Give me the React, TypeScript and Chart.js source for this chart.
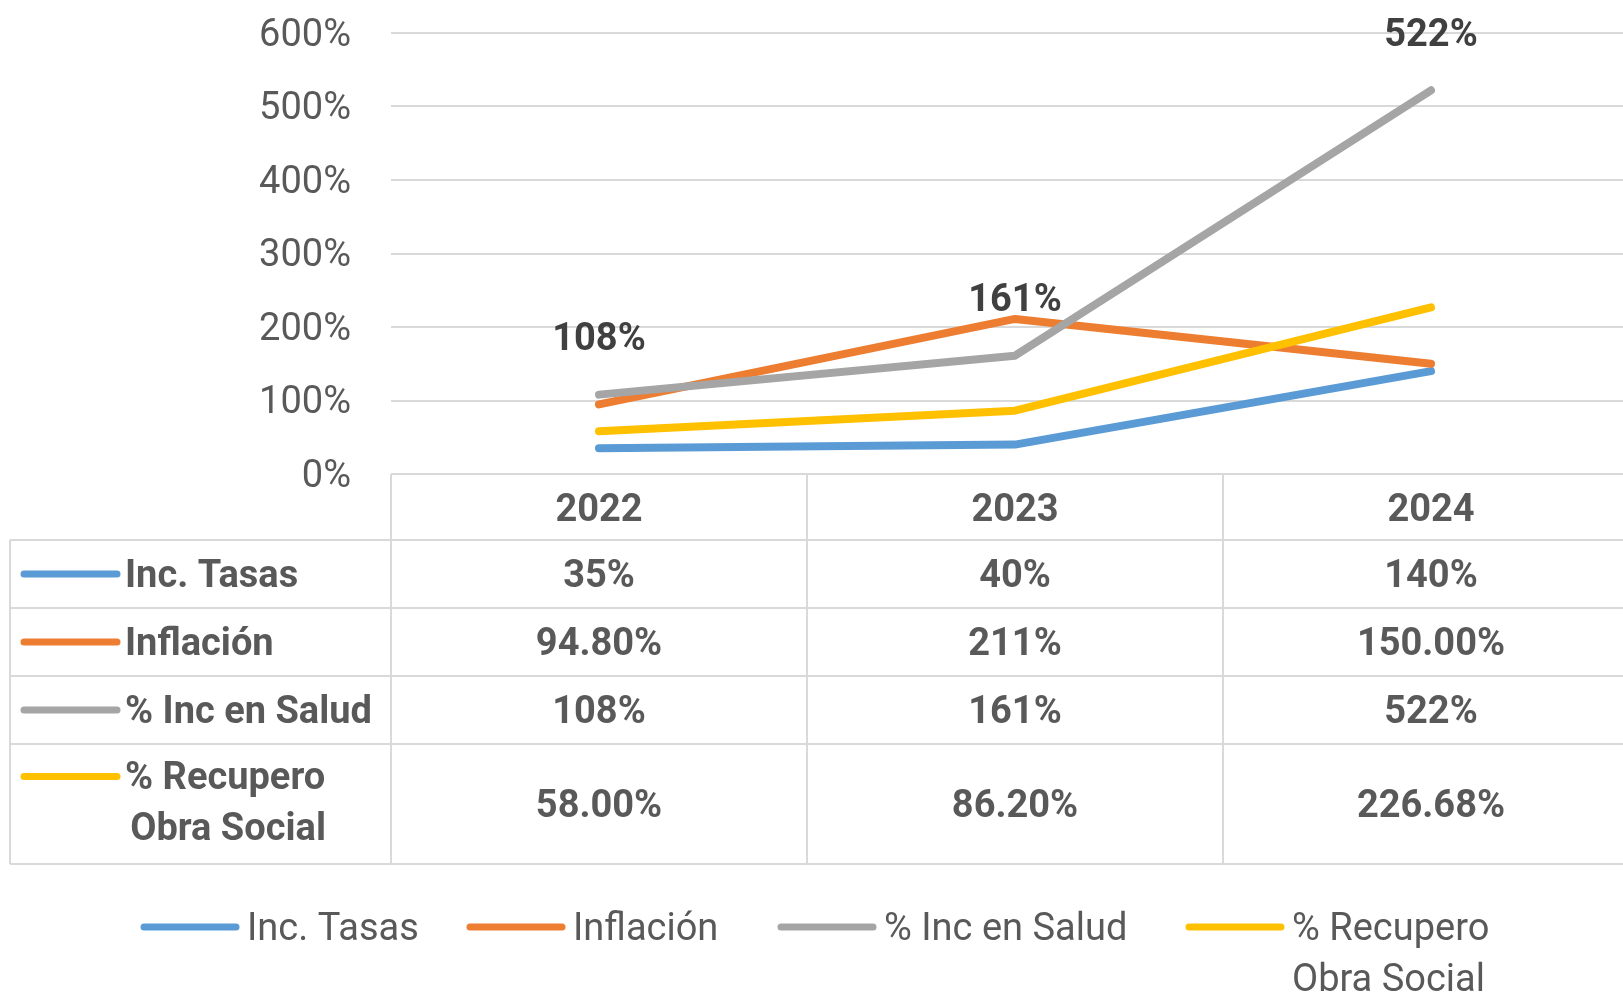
import React, { useEffect, useRef } from "react";
import { Chart, registerables } from "chart.js";

Chart.register(...registerables);

const categories = ["2022", "2023", "2024"];
const incTasas = [35, 40, 140];
const inflacion = [94.8, 211, 150];
const incSalud = [108, 161, 522];
const recupero = [58, 86.2, 226.68];

const tasasLabels = ["35%", "40%", "140%"];
const inflacionLabels = ["94.80%", "211%", "150.00%"];
const saludLabels = ["108%", "161%", "522%"];
const recuperoLabels = ["58.00%", "86.20%", "226.68%"];

const seriesNames = [["Inc. Tasas"], ["Inflación"], ["% Inc en Salud"], ["% Recupero", "Obra Social"]];
const seriesColors = ["#5B9BD5", "#ED7D31", "#A5A5A5", "#FFC000"];
const yTicks = [0, 100, 200, 300, 400, 500, 600];

const FONT = 'Roboto, "Noto Sans", sans-serif';
const FS = 38;
const CANVAS_W = 1660;
const CANVAS_H = 995;
const TY = 3; // text vertical nudge
const LEGEND_X = [141, 467, 778, 1186];

const tablePlugin = {
  id: "dataTable",
  afterDraw(chart: any) {
    const ctx = chart.ctx as CanvasRenderingContext2D;
    const area = chart.chartArea;
    const xs = chart.scales.x;
    const centers = categories.map((_, i) => xs.getPixelForValue(i));
    const half = (centers[1] - centers[0]) / 2;
    const bounds = [centers[0] - half, ...centers.map((c) => c + half)];
    const top = area.bottom;
    const rows = [540, 608, 676, 744, 864];
    const left = 10;
    const grid = "#D9D9D9";
    const textCol = "#595959";

    ctx.save();
    ctx.strokeStyle = grid;
    ctx.lineWidth = 2;
    rows.forEach((y) => {
      ctx.beginPath();
      ctx.moveTo(left, y);
      ctx.lineTo(CANVAS_W, y);
      ctx.stroke();
    });
    ctx.beginPath();
    ctx.moveTo(left, rows[0]);
    ctx.lineTo(left, rows[rows.length - 1]);
    ctx.stroke();
    bounds.forEach((x) => {
      ctx.beginPath();
      ctx.moveTo(x, top);
      ctx.lineTo(x, rows[rows.length - 1]);
      ctx.stroke();
    });

    ctx.textAlign = "center";
    ctx.textBaseline = "middle";
    ctx.fillStyle = textCol;
    ctx.font = `bold ${FS}px ${FONT}`;
    categories.forEach((c, i) => ctx.fillText(c, centers[i], (top + rows[0]) / 2 + 1 + TY));

    const valueRows = [tasasLabels, inflacionLabels, saludLabels, recuperoLabels];
    valueRows.forEach((vals, r) => {
      const yc = (rows[r] + rows[r + 1]) / 2;
      vals.forEach((v, i) => ctx.fillText(v, centers[i], yc + TY));
    });

    seriesNames.forEach((name, r) => {
      const yc = (rows[r] + rows[r + 1]) / 2;
      const lineGap = 51;
      const y0 = name.length > 1 ? yc - lineGap / 2 - 2 : yc;
      ctx.strokeStyle = seriesColors[r];
      ctx.lineWidth = 7;
      ctx.lineCap = "round";
      ctx.beginPath();
      ctx.moveTo(24, y0);
      ctx.lineTo(117, y0);
      ctx.stroke();
      ctx.fillStyle = textCol;
      ctx.font = `bold ${FS}px ${FONT}`;
      ctx.textAlign = "left";
      ctx.fillText(name[0], 125, y0 + TY);
      if (name.length > 1) {
        const w0 = ctx.measureText(name[0]).width;
        ctx.textAlign = "center";
        ctx.fillText(name[1], 128 + w0 / 2, y0 + lineGap + TY);
      }
    });

    const meta = chart.getDatasetMeta(2);
    ctx.fillStyle = "#404040";
    ctx.font = `bold ${FS}px ${FONT}`;
    ctx.textAlign = "center";
    meta.data.forEach((pt: any, i: number) => {
      ctx.fillText(saludLabels[i], pt.x, pt.y - 54);
    });

    ctx.font = `${FS}px ${FONT}`;
    const keyLen = 98;
    const keyGap = 8;
    const ly = 927;
    seriesNames.forEach((n, i) => {
      const x = LEGEND_X[i];
      ctx.strokeStyle = seriesColors[i];
      ctx.lineWidth = 7;
      ctx.lineCap = "round";
      ctx.beginPath();
      ctx.moveTo(x + 3, ly);
      ctx.lineTo(x + keyLen - 3, ly);
      ctx.stroke();
      ctx.fillStyle = textCol;
      ctx.textAlign = "left";
      ctx.fillText(n[0], x + keyLen + keyGap, ly + TY);
      if (n.length > 1) ctx.fillText(n[1], x + keyLen + keyGap, ly + 51 + TY);
    });
    ctx.restore();
  },
};

export default function App() {
  const ref = useRef<HTMLCanvasElement | null>(null);
  useEffect(() => {
    if (!ref.current) return;
    const mk = (label: string, data: number[], color: string, order: number) => ({
      label,
      data,
      borderColor: color,
      backgroundColor: color,
      borderWidth: 8,
      pointRadius: 0,
      borderCapStyle: "round" as const,
      borderJoinStyle: "round" as const,
      tension: 0,
      order,
    });
    const chart = new Chart(ref.current, {
      type: "line",
      data: {
        labels: categories,
        datasets: [
          mk("Inc. Tasas", incTasas, seriesColors[0], 3),
          mk("Inflación", inflacion, seriesColors[1], 2),
          mk("% Inc en Salud", incSalud, seriesColors[2], 1),
          mk("% Recupero Obra Social", recupero, seriesColors[3], 0),
        ],
      },
      options: {
        responsive: false,
        animation: false,
        devicePixelRatio: 1,
        layout: { padding: { left: 0, top: 33, right: CANVAS_W - 1639, bottom: CANVAS_H - 474 } },
        plugins: { legend: { display: false }, tooltip: { enabled: false } },
        scales: {
          x: { type: "category", display: false, offset: true },
          y: {
            min: yTicks[0],
            max: yTicks[yTicks.length - 1],
            afterBuildTicks: (s: any) => {
              s.ticks = yTicks.map((v) => ({ value: v }));
            },
            afterFit: (s: any) => {
              s.width = 391;
              s.paddingTop = 0;
              s.paddingBottom = 0;
            },
            ticks: {
              callback: (v: any) => v + "%",
              color: "#595959",
              font: { family: FONT, size: FS },
              padding: 40,
              labelOffset: 3,
            },
            grid: { color: "#D9D9D9", lineWidth: 2, drawTicks: false },
            border: { display: false },
          },
        },
      },
      plugins: [tablePlugin],
    });
    return () => chart.destroy();
  }, []);
  return (
    <div
      style={{
        position: "fixed",
        left: 0,
        top: 0,
        width: 1623,
        height: 995,
        overflow: "hidden",
        background: "#fff",
      }}
    >
      <canvas ref={ref} width={CANVAS_W} height={CANVAS_H} style={{ display: "block" }} />
    </div>
  );
}
